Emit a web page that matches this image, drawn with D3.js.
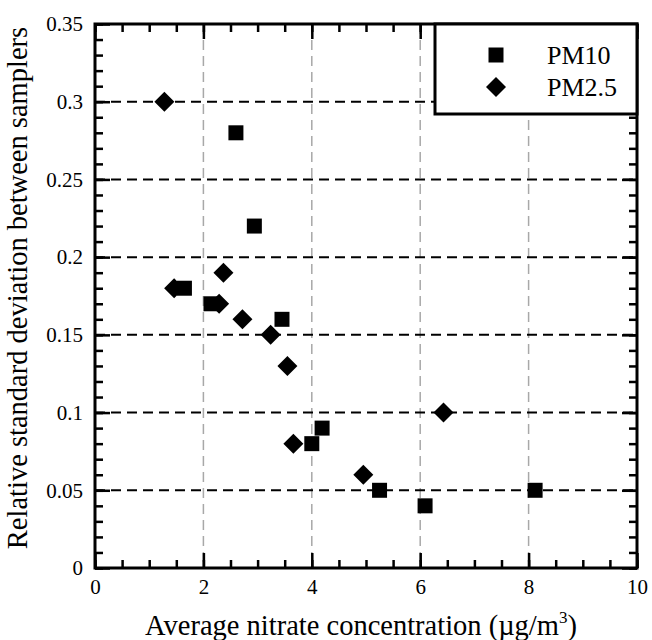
<!DOCTYPE html>
<html>
<head>
<meta charset="utf-8">
<script src="https://cdn.jsdelivr.net/npm/d3@7"></script>
<style>
  body { margin: 0; background: #fff; }
</style>
</head>
<body>
<div id="chart"></div>
<script>
// data
const pm10X = [2.60, 2.94, 1.65, 2.14, 3.45, 4.19, 4.00, 5.25, 6.09, 8.12];
const pm10Y = [0.28, 0.22, 0.18, 0.17, 0.16, 0.09, 0.08, 0.05, 0.04, 0.05];
const pm25X = [1.28, 2.37, 1.46, 2.29, 2.72, 3.24, 3.55, 6.43, 3.66, 4.95];
const pm25Y = [0.30, 0.19, 0.18, 0.17, 0.16, 0.15, 0.13, 0.10, 0.08, 0.06];
const xMajor = [0, 2, 4, 6, 8, 10];
const yMajor = [0, 0.05, 0.1, 0.15, 0.2, 0.25, 0.3, 0.35];
const seriesNames = ["PM10", "PM2.5"];

const FONT = "'Liberation Serif', 'Times New Roman', Times, serif";
const W = 652, H = 640;
const margin = {top: 24, right: 15, bottom: 72, left: 95},
    width = W - margin.left - margin.right,
    height = H - margin.top - margin.bottom;

const svg = d3.select("#chart")
  .append("svg")
    .attr("width", W)
    .attr("height", H)
    .style("font-family", FONT)
  .append("g")
    .attr("transform", `translate(${margin.left}, ${margin.top})`);

const x = d3.scaleLinear().domain([0, 10]).range([0, width]);
const y = d3.scaleLinear().domain([0, 0.35]).range([height, 0]);

// vertical grid (grey dashed)
svg.append("g")
  .selectAll("line")
  .data(xMajor.slice(1, -1))
  .enter().append("line")
    .attr("x1", d => x(d)).attr("x2", d => x(d))
    .attr("y1", 0).attr("y2", height)
    .attr("stroke", "#a8a8a8")
    .attr("stroke-width", 1.5)
    .attr("stroke-dasharray", "10,6");

// horizontal grid (black dashed)
svg.append("g")
  .selectAll("line")
  .data(yMajor.slice(1, -1))
  .enter().append("line")
    .attr("x1", 0).attr("x2", width)
    .attr("y1", d => y(d)).attr("y2", d => y(d))
    .attr("stroke", "#000")
    .attr("stroke-width", 2)
    .attr("stroke-dasharray", "10,6");

// ticks on all four sides, pointing inward
const xMinor = d3.range(0, 10.001, 0.5);
const yMinor = d3.range(0, 0.3501, 0.01);

function styleAxis(g) {
  g.attr("font-family", null).attr("font-size", null);
  g.select(".domain").remove();
  g.selectAll(".tick line").attr("stroke", "#000").attr("stroke-width", 2.5);
  g.selectAll(".tick text")
    .attr("fill", "#000")
    .style("font-family", FONT)
    .style("font-size", "21px");
}

svg.append("g").attr("transform", `translate(0,${height})`)
  .call(d3.axisBottom(x).tickValues(xMinor).tickSize(-8).tickFormat("")).call(styleAxis);
svg.append("g").attr("transform", `translate(0,${height})`)
  .call(d3.axisBottom(x).tickValues(xMajor).tickSize(-15).tickPadding(11).tickFormat(d3.format("d")))
  .call(styleAxis);
svg.append("g")
  .call(d3.axisTop(x).tickValues(xMinor).tickSize(-8).tickFormat("")).call(styleAxis);
svg.append("g")
  .call(d3.axisTop(x).tickValues(xMajor).tickSize(-15).tickFormat("")).call(styleAxis);

svg.append("g")
  .call(d3.axisLeft(y).tickValues(yMinor).tickSize(-8).tickFormat("")).call(styleAxis);
svg.append("g")
  .call(d3.axisLeft(y).tickValues(yMajor).tickSize(-15).tickPadding(12).tickFormat(d => d === 0 ? "0" : String(+d.toFixed(2))))
  .call(styleAxis);
svg.append("g").attr("transform", `translate(${width},0)`)
  .call(d3.axisRight(y).tickValues(yMinor).tickSize(-8).tickFormat("")).call(styleAxis);
svg.append("g").attr("transform", `translate(${width},0)`)
  .call(d3.axisRight(y).tickValues(yMajor).tickSize(-15).tickFormat("")).call(styleAxis);

// frame
svg.append("rect")
  .attr("width", width).attr("height", height)
  .attr("fill", "none").attr("stroke", "#000").attr("stroke-width", 3);

// markers
const square = d3.symbol().type(d3.symbolSquare).size(225);
const diamond = d3.symbol().type(d3.symbolSquare).size(200);

svg.append("g")
  .selectAll("path")
  .data(pm10X.map((d, i) => [d, pm10Y[i]]))
  .enter().append("path")
    .attr("d", square)
    .attr("transform", d => `translate(${x(d[0])},${y(d[1])})`)
    .attr("fill", "#000");

svg.append("g")
  .selectAll("path")
  .data(pm25X.map((d, i) => [d, pm25Y[i]]))
  .enter().append("path")
    .attr("d", diamond)
    .attr("transform", d => `translate(${x(d[0])},${y(d[1])}) rotate(45)`)
    .attr("fill", "#000");

// legend
const lx = 340, ly = 0, lw = width - 340, lh = 90;
svg.append("rect")
  .attr("x", lx).attr("y", ly).attr("width", lw).attr("height", lh)
  .attr("fill", "#fff").attr("stroke", "#000").attr("stroke-width", 3);
svg.append("path").attr("d", square)
  .attr("transform", `translate(${lx + 61},31)`).attr("fill", "#000");
svg.append("path").attr("d", diamond)
  .attr("transform", `translate(${lx + 61},63) rotate(45)`).attr("fill", "#000");
svg.append("text").attr("x", lx + 112).attr("y", 40).text(seriesNames[0])
  .style("font-family", FONT).style("font-size", "26px");
svg.append("text").attr("x", lx + 112).attr("y", 72).text(seriesNames[1])
  .style("font-family", FONT).style("font-size", "26px");

// x axis title
const xt = svg.append("text")
  .attr("text-anchor", "middle")
  .attr("x", width / 2 - 5)
  .attr("y", height + 67)
  .style("font-family", FONT)
  .style("font-size", "28.5px");
xt.append("tspan").text("Average nitrate concentration (\u00b5g/m");
xt.append("tspan").text("3").attr("dy", -12).style("font-size", "17px");
xt.append("tspan").text(")").attr("dy", 12);

// y axis title
svg.append("text")
  .attr("text-anchor", "middle")
  .attr("transform", "rotate(-90)")
  .attr("x", -264)
  .attr("y", -68)
  .text("Relative standard deviation between samplers")
  .style("font-family", FONT)
  .style("font-size", "28.5px");
</script>
</body>
</html>
